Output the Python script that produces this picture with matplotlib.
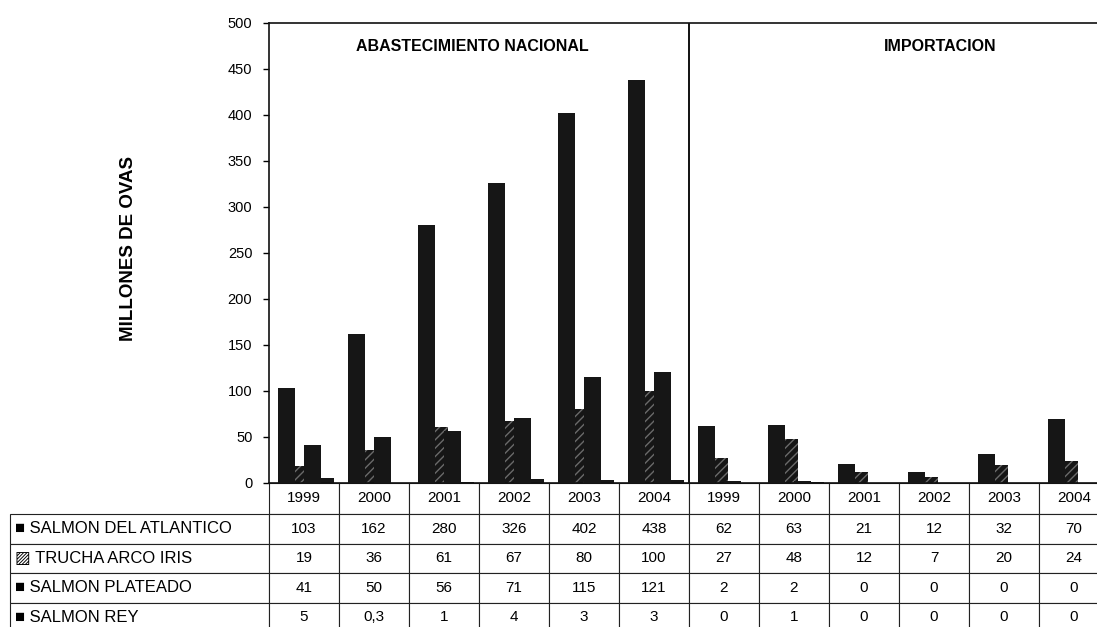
import matplotlib
matplotlib.use("Agg")
import matplotlib.pyplot as plt
import numpy as np

plt.rcParams["font.family"] = ["Liberation Sans", "DejaVu Sans"]

years = ["1999", "2000", "2001", "2002", "2003", "2004"]
col_labels = years + years
atlantico = [103, 162, 280, 326, 402, 438, 62, 63, 21, 12, 32, 70]
trucha = [19, 36, 61, 67, 80, 100, 27, 48, 12, 7, 20, 24]
plateado = [41, 50, 56, 71, 115, 121, 2, 2, 0, 0, 0, 0]
rey = [5, 0.3, 1, 4, 3, 3, 0, 1, 0, 0, 0, 0]
row_labels = ["\u25a0 SALMON DEL ATLANTICO", "\u25a8 TRUCHA ARCO IRIS",
              "\u25a0 SALMON PLATEADO", "\u25a0 SALMON REY"]
sections = ["ABASTECIMIENTO NACIONAL", "IMPORTACION"]

BLACK = "#161616"
W, H = 1097, 627
AW, AH = 840, 460          # axes size in px
fig = plt.figure(figsize=(W / 100, H / 100), dpi=100)
fig.patch.set_facecolor("white")
# axes runs a little past the right edge, as in the scanned original
ax = fig.add_axes([269 / W, (H - 483) / H, AW / W, AH / H])

x = np.arange(len(col_labels))
bw = 0.243
ax.bar(x - 0.064, trucha, bw, color=BLACK, edgecolor="#6a6a6a", lw=0,
       hatch="////", zorder=1)
ax.bar(x + 0.307, rey, bw, color=BLACK, lw=0, zorder=2)
ax.bar(x + 0.121, plateado, bw, color=BLACK, lw=0, zorder=3)
ax.bar(x - 0.25, atlantico, bw, color=BLACK, lw=0, zorder=4)

ax.set_xlim(-0.5, len(col_labels) - 0.5)
ax.set_ylim(0, 500)
ax.set_yticks(np.arange(0, 501, 50))
ax.tick_params(axis="y", direction="out", length=4, width=1, pad=8,
               labelsize=10.5)
ax.set_xticks([])
for s in ax.spines.values():
    s.set_linewidth(1.2)
    s.set_color("#111")
ax.axvline(5.5, color="#111", lw=1.4)

ax.text(2.4, 474, sections[0], ha="center", va="center", fontsize=11.5,
        fontweight="bold")
ax.text(9.09, 474, sections[1], ha="center", va="center", fontsize=11.5,
        fontweight="bold")

ax.set_ylabel("MILLONES DE OVAS", fontsize=13.5, fontweight="bold")
ax.yaxis.set_label_coords(-0.1667, 0.509)
ax.yaxis.label.set_va("center")


def fmt(v):
    return f"{v:g}".replace(".", ",")


# data table under the bars; first column holds the series names
series = [atlantico, trucha, plateado, rey]
cell_text = [[lab] + [fmt(v) for v in vals]
             for lab, vals in zip(row_labels, series)]
tbl = ax.table(cellText=cell_text, colLabels=[""] + col_labels,
               colWidths=[259 / AW] + [70 / AW] * len(col_labels),
               cellLoc="center",
               bbox=[-259 / AW, -149 / AH, 1099 / AW, 149 / AH])
tbl.auto_set_font_size(False)
for (r, c), cell in tbl.get_celld().items():
    cell.set_linewidth(0.8)
    cell.set_edgecolor("#222")
    cell.get_text().set_fontsize(11)
    if r == 0:
        cell.set_height(31 / AH)
    else:
        cell.set_height(29.5 / AH)
    if c == 0:
        cell.get_text().set_fontsize(12)
        cell.get_text().set_ha("left")
        cell.PAD = 0.02
        if r == 0:
            cell.set_linewidth(0)

fig.savefig("out.png", dpi=100, facecolor="white")
